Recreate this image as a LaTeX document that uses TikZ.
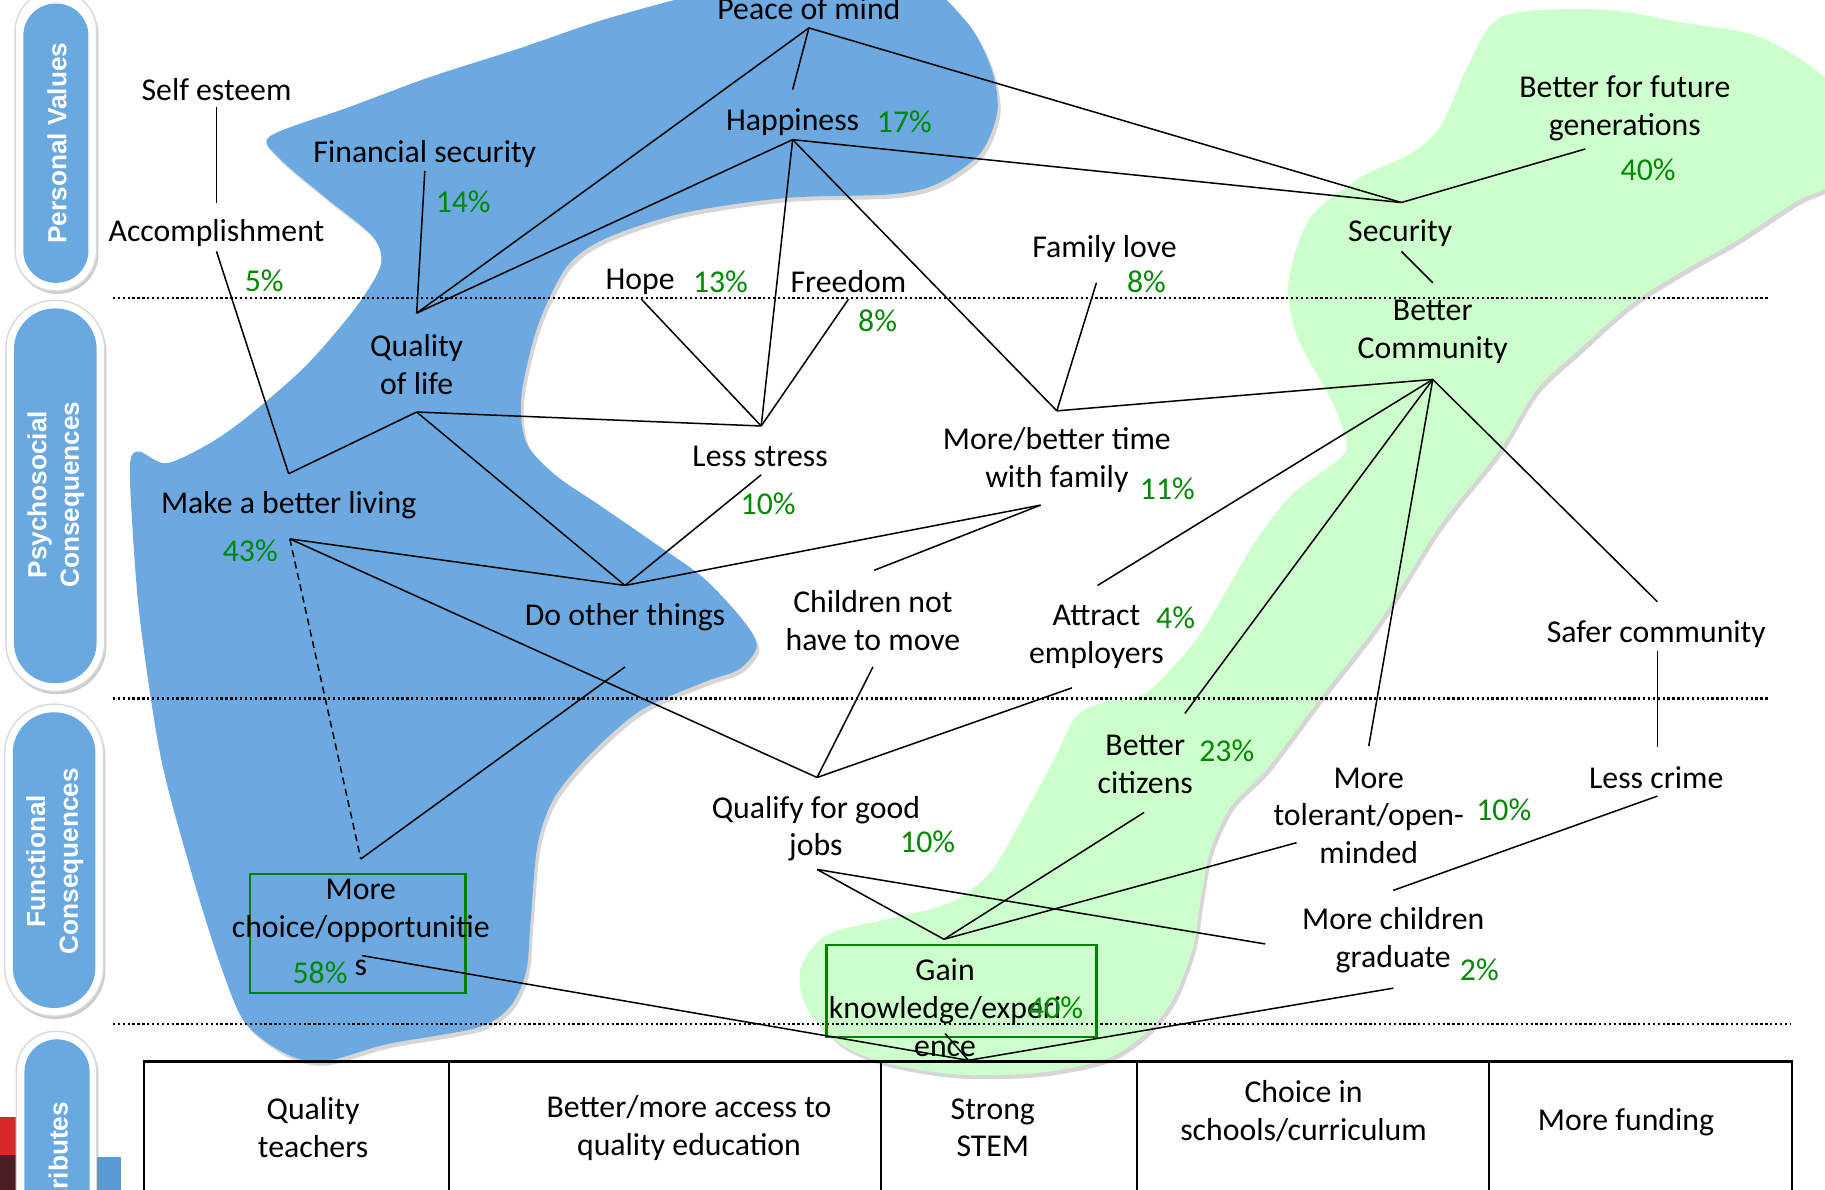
\documentclass[tikz,border=0pt]{standalone}
\usepackage{fontspec}
\setmainfont{Carlito}
\newfontfamily\pillfont{Liberation Sans}
\usetikzlibrary{shadows}
\definecolor{blobblue}{RGB}{108,169,225}
\definecolor{pillblue}{RGB}{106,168,224}
\definecolor{blobgreen}{RGB}{204,255,204}
\definecolor{pctgreen}{RGB}{0,136,0}
\definecolor{boxgreen}{RGB}{0,128,0}
\definecolor{decored}{RGB}{214,40,40}
\definecolor{decomaroon}{RGB}{75,30,38}
\definecolor{decoblue}{RGB}{91,155,213}
\begin{document}
\begin{tikzpicture}[x=1pt,y=-1pt,
  lbl/.style={font=\fontsize{27.3}{32.5}\selectfont, inner sep=0pt, align=center},
  pct/.style={lbl, text=pctgreen},
  conn/.style={line width=1.3pt, black},
  sepline/.style={line width=2pt, dash pattern=on 2pt off 2.2pt},
  pilltext/.style={font=\pillfont\bfseries\fontsize{22.5}{28}\selectfont, text=white, align=center, inner sep=0pt, rotate=90},
  gbox/.style={draw=boxgreen, line width=2pt},
  tbl/.style={line width=1.8pt, black},
  blobshadow/.style={drop shadow={shadow xshift=2.5pt, shadow yshift=-3.5pt, opacity=0.16, fill=black}},
  pillouter/.style={fill=white, draw=black!15, line width=1.2pt, drop shadow={shadow xshift=1.5pt, shadow yshift=-2.5pt, opacity=0.2, fill=black}},
]
\useasboundingbox (0,0) rectangle (1568,1022);
\begin{scope}
\clip (0,0) rectangle (1568,1022);

% ---------- blobs ----------
\fill[blobblue, blobshadow] plot[smooth cycle, tension=0.5] coordinates {
 (232,117) (300,92) (370,66) (445,42) (515,18) (587,-2) (660,-20) (780,-20)
 (829,17) (851,57) (857,95) (842,132) (805,158) (765,167) (676,170) (587,183)
 (520,205) (487,229) (462,280) (448,340) (452,380) (477,408) (515,434) (560,465)
 (605,497) (640,535) (650,556) (635,575) (605,586) (551,610) (510,645) (477,684)
 (462,725) (456,790) (452,835) (438,865) (410,883) (333,897) (278,912) (245,905)
 (210,878) (188,825) (164,748) (138,650) (120,530) (113,440) (112,396) (120,388)
 (143,398) (180,381) (214,357) (263,314) (305,265) (327,228) (320,203) (280,170)
 (240,136)};

\fill[blobgreen, blobshadow] plot[smooth cycle, tension=0.5] coordinates {
 (1291,14) (1374,8) (1450,20) (1510,31) (1560,60) (1600,100) (1590,150) (1545,172)
 (1493,206) (1442,235) (1400,262) (1356,301) (1320,335) (1288,387) (1236,453)
 (1185,534) (1134,600) (1089,660) (1058,692) (1040,730) (1032,770) (1025,814)
 (1008,858) (985,887) (950,910) (890,922) (820,923) (760,913) (722,897) (693,866)
 (688,832) (711,803) (765,789) (818,775) (852,748) (880,700) (907,650) (925,615)
 (950,603) (985,595) (1031,545) (1076,469) (1110,425) (1150,395) (1157,381)
 (1144,344) (1115,290) (1107,243) (1125,188) (1168,153) (1212,132) (1238,108)
 (1262,55)};

% ---------- decorations bottom left ----------
\fill[decored] (0,960) rectangle (40,992);
\fill[decomaroon] (0,992) rectangle (40,1023);
\fill[decoblue] (60,994) rectangle (104,1023);

% ---------- pills ----------
\path[pillouter, rounded corners=34.5pt] (13,-8) rectangle (83,250);
\fill[pillblue, rounded corners=27.8pt] (20,3) rectangle (76,243);
\path[pillouter, rounded corners=42pt] (5,258) rectangle (90,594);
\fill[pillblue, rounded corners=35pt] (12,265) rectangle (83,587);
\path[pillouter, rounded corners=42pt] (4,605) rectangle (89,873);
\fill[pillblue, rounded corners=35pt] (11,612) rectangle (82,866);
\path[pillouter, rounded corners=34pt] (14,886) rectangle (83,1060);
\fill[pillblue, rounded corners=27.8pt] (21,893) rectangle (77,1060);

\node[pilltext] (pv) at (49,123) {Personal Values};
\node[pilltext] (psy) at (48,425) {Psychosocial\\Consequences};
\node[pilltext] (fun) at (47,740) {Functional\\Consequences};
\node[pilltext] (attr) at (50,1000) {Attributes};

% ---------- separators ----------
\draw[sepline] (97,256) -- (1520,256);
\draw[sepline] (97,600) -- (1520,600);
\draw[sepline] (97,880) -- (1538,880);

% ---------- table ----------
\draw[tbl] (124,1030) -- (124,912) -- (1540,912) -- (1540,1030);
\draw[tbl] (386,912) -- (386,1030);
\draw[tbl] (757,912) -- (757,1030);
\draw[tbl] (977,912) -- (977,1030);
\draw[tbl] (1279,912) -- (1279,1030);

% ---------- green boxes ----------
\node[gbox, minimum width=185pt, minimum height=102pt, inner sep=0pt] (mcbox) at (307.5,802) {};
\node[gbox, minimum width=232pt, minimum height=79pt, inner sep=0pt] (gbx) at (826,851.5) {};

% ---------- text nodes ----------
\node[lbl] (pom) at (695,7) {Peace of mind};
\node[lbl] (se) at (186,77) {Self esteem};
\node[lbl] (fs) at (365,132) {Financial security};
\node[pct] (p14) at (398,173) {14\%};
\node[lbl] (hap) at (681,105) {Happiness};
\node[pct] (p17) at (777,105) {17\%};
\node[lbl] (bfg) at (1396,93) {Better for future\\generations};
\node[pct] (p40a) at (1416,146) {40\%};
\node[lbl] (acc) at (186,200) {Accomplishment};
\node[pct] (p5) at (227,241) {5\%};
\node[lbl] (sec) at (1203,200) {Security};
\node[lbl] (fl) at (949,214) {Family love};
\node[pct] (p8a) at (985,242) {8\%};
\node[lbl] (hope) at (550,242) {Hope};
\node[pct] (p13) at (619,242) {13\%};
\node[lbl] (free) at (729,242) {Freedom};
\node[pct] (p8b) at (754,276) {8\%};
\node[lbl] (bc) at (1231,285) {Better\\Community};
\node[lbl] (qol) at (358,313) {Quality\\of life};
\node[lbl] (ls) at (653,392) {Less stress};
\node[pct] (p10a) at (660,433) {10\%};
\node[lbl] (mbt) at (908,395) {More/better time\\with family};
\node[pct] (p11) at (1003,420) {11\%};
\node[lbl] (mbl) at (248,434) {Make a better living};
\node[pct] (p43) at (215,473) {43\%};
\node[lbl] (dot) at (537,530) {Do other things};
\node[lbl] (ch) at (750,533) {Children not\\have to move};
\node[lbl] (at) at (942,547) {Attract\\employers};
\node[pct] (p4) at (1010,531) {4\%};
\node[lbl] (sc) at (1423,545) {Safer community};
\node[lbl] (bci) at (984,657) {Better\\citizens};
\node[pct] (p23) at (1054,645) {23\%};
\node[lbl] (mto) at (1176,701) {More\\tolerant/open-\\minded};
\node[pct] (p10b) at (1292,696) {10\%};
\node[lbl] (lc) at (1423,668) {Less crime};
\node[lbl] (qual) at (701,712) {Qualify for good\\jobs};
\node[pct] (p10c) at (797,723) {10\%};
\node[lbl] (mc) at (310,797) {More\\choice/opportunitie\\s};
\node[pct] (p58) at (275,836) {58\%};
\node[lbl] (mcg) at (1197,808) {More children\\graduate};
\node[pct] (p2) at (1271,833) {2\%};
\node[lbl] (gain) at (812,866) {Gain\\knowledge/experi\\ence};
\node[pct] (p40b) at (907,866) {40\%};

\node[lbl] (t1) at (269,969) {Quality\\teachers};
\node[lbl] (t2) at (592,969) {Better/more access to\\quality education};
\node[lbl] (t3) at (853,969) {Strong\\STEM};
\node[lbl] (t4) at (1120,955) {Choice in\\schools/curriculum};
\node[lbl] (t5) at (1397,964) {More funding};

% ---------- connection points ----------
\coordinate (se-b) at (186,92);
\coordinate (ac-t) at (186,174);
\coordinate (ac-b) at (186,216);
\coordinate (mbl-t) at (248,407);
\coordinate (mbl-b) at (249,463);
\coordinate (qol-t) at (358,269);
\coordinate (qol-b) at (358,354);
\coordinate (fs-b) at (365,147);
\coordinate (pom-b) at (695,24);
\coordinate (hap-t) at (681,77);
\coordinate (hap-b) at (681,120);
\coordinate (sec-t) at (1204,174);
\coordinate (sec-b) at (1204,216);
\coordinate (bfg-b) at (1362,128);
\coordinate (bc-t) at (1231,243);
\coordinate (bc-b) at (1231,326);
\coordinate (hope-b) at (551,257);
\coordinate (free-b) at (729,257);
\coordinate (ls-t) at (654,366);
\coordinate (ls-b) at (654,408);
\coordinate (fl-b) at (942,243);
\coordinate (mbt-t) at (908,353);
\coordinate (mbt-b) at (894,434);
\coordinate (dot-t) at (537,503);
\coordinate (dot-b) at (537,573);
\coordinate (ch-t) at (751,490);
\coordinate (ch-b) at (750,573);
\coordinate (at-t) at (943,503);
\coordinate (at-b) at (921,591);
\coordinate (sc-t) at (1424,517);
\coordinate (sc-b) at (1424,559);
\coordinate (bci-t) at (1018,613);
\coordinate (bci-b) at (983,698);
\coordinate (mto-t) at (1176,641);
\coordinate (mto-b) at (1114,724);
\coordinate (lc-t) at (1424,642);
\coordinate (lc-b) at (1424,684);
\coordinate (q-t) at (702,668);
\coordinate (q-b) at (702,747);
\coordinate (mc-t) at (310,738);
\coordinate (mc-b) at (311,821);
\coordinate (g-t) at (811,807);
\coordinate (g-b) at (812,888);
\coordinate (mcg-t) at (1197,765);
\coordinate (mcg-l) at (1087,811);
\coordinate (mcg-b) at (1197,849);
\coordinate (apex) at (832,911);

% ---------- connectors ----------
\draw[conn] (se-b) -- (ac-t);
\draw[conn] (ac-b) -- (mbl-t);
\draw[conn] (mbl-t) -- (qol-b);
\draw[conn] (qol-t) -- (fs-b);
\draw[conn] (qol-t) -- (pom-b);
\draw[conn] (qol-t) -- (hap-b);
\draw[conn] (pom-b) -- (hap-t);
\draw[conn] (pom-b) -- (sec-t);
\draw[conn] (hap-b) -- (sec-t);
\draw[conn] (sec-t) -- (bfg-b);
\draw[conn] (hap-b) -- (ls-t);
\draw[conn] (hap-b) -- (mbt-t);
\draw[conn] (hope-b) -- (ls-t);
\draw[conn] (free-b) -- (ls-t);
\draw[conn] (qol-b) -- (ls-t);
\draw[conn] (fl-b) -- (mbt-t);
\draw[conn] (mbt-t) -- (bc-b);
\draw[conn] (sec-b) -- (bc-t);
\draw[conn] (qol-b) -- (dot-t);
\draw[conn] (ls-b) -- (dot-t);
\draw[conn] (mbt-b) -- (dot-t);
\draw[conn] (mbt-b) -- (ch-t);
\draw[conn] (mbl-b) -- (dot-t);
\draw[conn] (mbl-b) -- (q-t);
\draw[conn, dash pattern=on 6pt off 4pt] (mbl-b) -- (mc-t);
\draw[conn] (mc-t) -- (dot-b);
\draw[conn] (ch-b) -- (q-t);
\draw[conn] (at-b) -- (q-t);
\draw[conn] (at-t) -- (bc-b);
\draw[conn] (bci-t) -- (bc-b);
\draw[conn] (mto-t) -- (bc-b);
\draw[conn] (sc-t) -- (bc-b);
\draw[conn] (sc-b) -- (lc-t);
\draw[conn] (q-b) -- (g-t);
\draw[conn] (q-b) -- (mcg-l);
\draw[conn] (bci-b) -- (g-t);
\draw[conn] (mto-b) -- (g-t);
\draw[conn] (lc-b) -- (mcg-t);
\draw[conn] (mc-b) -- (apex);
\draw[conn] (mcg-b) -- (apex);
\draw[conn] (g-b) -- (apex);
\end{scope}
\end{tikzpicture}
\end{document}
